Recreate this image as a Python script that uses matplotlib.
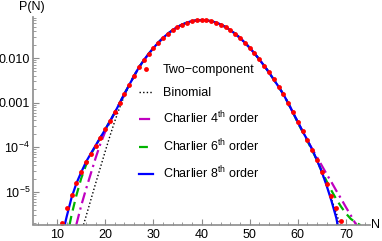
import numpy as np
import matplotlib
matplotlib.use("Agg")
import matplotlib.pyplot as plt
from matplotlib.ticker import FixedLocator, FixedFormatter, LogLocator, MultipleLocator, NullFormatter

plt.rcParams['font.family'] = ['Liberation Sans', 'DejaVu Sans']
plt.rcParams['mathtext.fontset'] = 'custom'
plt.rcParams['mathtext.rm'] = 'Liberation Sans'
plt.rcParams['mathtext.it'] = 'Liberation Sans:italic'
plt.rcParams['mathtext.default'] = 'regular'

# two-component distribution (red dots), N = 11..69
n_two = np.arange(11, 70)
p_two = [2.00e-6, 4.47e-6, 8.70e-6, 1.62e-5, 2.88e-5, 4.68e-5, 7.24e-5, 1.10e-4, 1.66e-4, 2.51e-4,
         3.89e-4, 6.03e-4, 9.77e-4, 1.58e-3, 2.51e-3, 3.98e-3, 6.17e-3, 8.85e-3, 1.23e-2, 1.67e-2,
         2.20e-2, 2.81e-2, 3.49e-2, 4.21e-2, 4.93e-2, 5.62e-2, 6.22e-2, 6.68e-2, 6.98e-2, 7.08e-2,
         6.98e-2, 6.68e-2, 6.22e-2, 5.62e-2, 4.93e-2, 4.21e-2, 3.49e-2, 2.82e-2, 2.21e-2, 1.70e-2,
         1.27e-2, 9.33e-3, 6.76e-3, 4.79e-3, 3.31e-3, 2.29e-3, 1.55e-3, 9.77e-4, 6.03e-4, 3.72e-4,
         2.29e-4, 1.45e-4, 8.91e-5, 5.13e-5, 2.82e-5, 1.51e-5, 7.94e-6, 4.37e-6, 2.29e-6]

# tails where the approximations leave the dots (the middle is shared with the dots)
n_bin_l = [15.5, 16, 17, 18, 19, 20, 21, 22, 23, 24, 25, 26]
p_bin_l = [1.86e-6, 2.82e-6, 6.61e-6, 1.55e-5, 3.55e-5, 8.13e-5, 1.82e-4, 3.89e-4, 7.76e-4, 1.45e-3, 2.45e-3, 3.98e-3]
n_bin_r = [64, 65, 66, 67, 68, 68.8]
p_bin_r = [5.01e-5, 2.69e-5, 1.38e-5, 6.92e-6, 3.39e-6, 1.82e-6]

n_c4_l = [14.0, 15, 16, 17, 18, 19, 20, 21]
p_c4_l = [1.86e-6, 4.90e-6, 1.15e-5, 2.57e-5, 5.75e-5, 1.20e-4, 2.24e-4, 3.72e-4]
n_c4_r = [63, 64, 65, 66, 67, 68, 69, 70, 71, 72, 72.2]
p_c4_r = [9.12e-5, 6.03e-5, 3.89e-5, 2.51e-5, 1.66e-5, 1.07e-5, 7.08e-6, 4.57e-6, 3.02e-6, 1.95e-6, 1.78e-6]

n_c6_l = [12.6, 13, 14, 15, 16, 17, 18]
p_c6_l = [1.86e-6, 3.02e-6, 8.32e-6, 2.00e-5, 3.98e-5, 6.92e-5, 1.07e-4]
n_c6_r = [60, 61, 62, 63, 64, 65, 66, 67, 68, 69, 70, 71, 72, 73]
p_c6_r = [3.55e-4, 2.24e-4, 1.38e-4, 8.51e-5, 5.13e-5, 2.88e-5, 1.74e-5, 1.07e-5, 6.92e-6,
          4.68e-6, 3.31e-6, 2.51e-6, 2.09e-6, 1.82e-6]

n_c8_l = [11.6, 12, 13, 14, 15]
p_c8_l = [1.86e-6, 2.82e-6, 7.41e-6, 1.55e-5, 2.75e-5]
n_c8_r = [65, 66, 67, 68, 68.3]
p_c8_r = [2.82e-5, 1.38e-5, 6.31e-6, 2.63e-6, 1.80e-6]

labels = ["Two\u2212component", "Binomial", "Charlier 4$^{th}$ order",
          "Charlier 6$^{th}$ order", "Charlier 8$^{th}$ order"]


def join(nl, pl, nr, pr):
    n_two_a = np.asarray(n_two)
    p_two_a = np.asarray(p_two)
    mid = (n_two_a > max(nl)) & (n_two_a < min(nr))
    n = np.concatenate([nl, n_two_a[mid], nr])
    p = np.concatenate([pl, p_two_a[mid], pr])
    return n, p


fig = plt.figure(figsize=(3.82, 2.41), dpi=100)
ax = fig.add_axes([33 / 382, 16.5 / 241, 337 / 382, 207.5 / 241])
ax.set_yscale('log')

n, p = join(n_bin_l, p_bin_l, n_bin_r, p_bin_r)
h_bin, = ax.plot(n, p, color='black', lw=1.0, ls=(0, (1, 1.6)))
n, p = join(n_c4_l, p_c4_l, n_c4_r, p_c4_r)
h_c4, = ax.plot(n, p, color='#c000c0', lw=1.6, ls=(0, (5, 2, 1, 2)))
n, p = join(n_c6_l, p_c6_l, n_c6_r, p_c6_r)
h_c6, = ax.plot(n, p, color='#00b400', lw=1.6, ls=(0, (4, 2.5)))
n, p = join(n_c8_l, p_c8_l, n_c8_r, p_c8_r)
h_c8, = ax.plot(n, p, color='blue', lw=1.6)
h_two, = ax.plot(n_two, p_two, 'o', color='red', ms=3.5, mec='none')

ax.set_xlim(5, 75)
ax.set_ylim(1.875e-6, 0.0828)

for s in ['top', 'right']:
    ax.spines[s].set_visible(False)
for s in ['left', 'bottom']:
    ax.spines[s].set_color('#8c8c8c')
    ax.spines[s].set_linewidth(1.2)

ax.xaxis.set_minor_locator(MultipleLocator(2))
ax.set_xticks([10, 20, 30, 40, 50, 60, 70])
ax.yaxis.set_major_locator(FixedLocator([1e-5, 1e-4, 1e-3, 1e-2]))
ax.yaxis.set_major_formatter(FixedFormatter(['$10^{-5}$', '$10^{-4}$', '0.001', '0.010']))
ax.yaxis.set_minor_locator(LogLocator(subs=np.arange(2, 10), numticks=20))
ax.yaxis.set_minor_formatter(NullFormatter())
ax.tick_params(which='both', direction='in', color='#8c8c8c', labelsize=9)
ax.tick_params(which='major', length=4, width=0.8)
ax.tick_params(which='minor', length=2, width=0.6)
ax.tick_params(axis='x', pad=3)
ax.tick_params(axis='y', pad=2)

ax.legend([h_two, h_bin, h_c4, h_c6, h_c8], labels, loc='upper left',
          bbox_to_anchor=(139 / 382, 1 - 64 / 241), bbox_transform=fig.transFigure,
          frameon=False, fontsize=9, numpoints=1, handlelength=1.1, handletextpad=0.8,
          labelspacing=0.88, borderpad=0, borderaxespad=0)

fig.text(32 / 382, 1 - 7 / 241, 'P(N)', ha='center', va='center', fontsize=9)
fig.text(376 / 382, 1 - 225 / 241, 'N', ha='center', va='center', fontsize=9)

fig.savefig('out.png', dpi=100)
